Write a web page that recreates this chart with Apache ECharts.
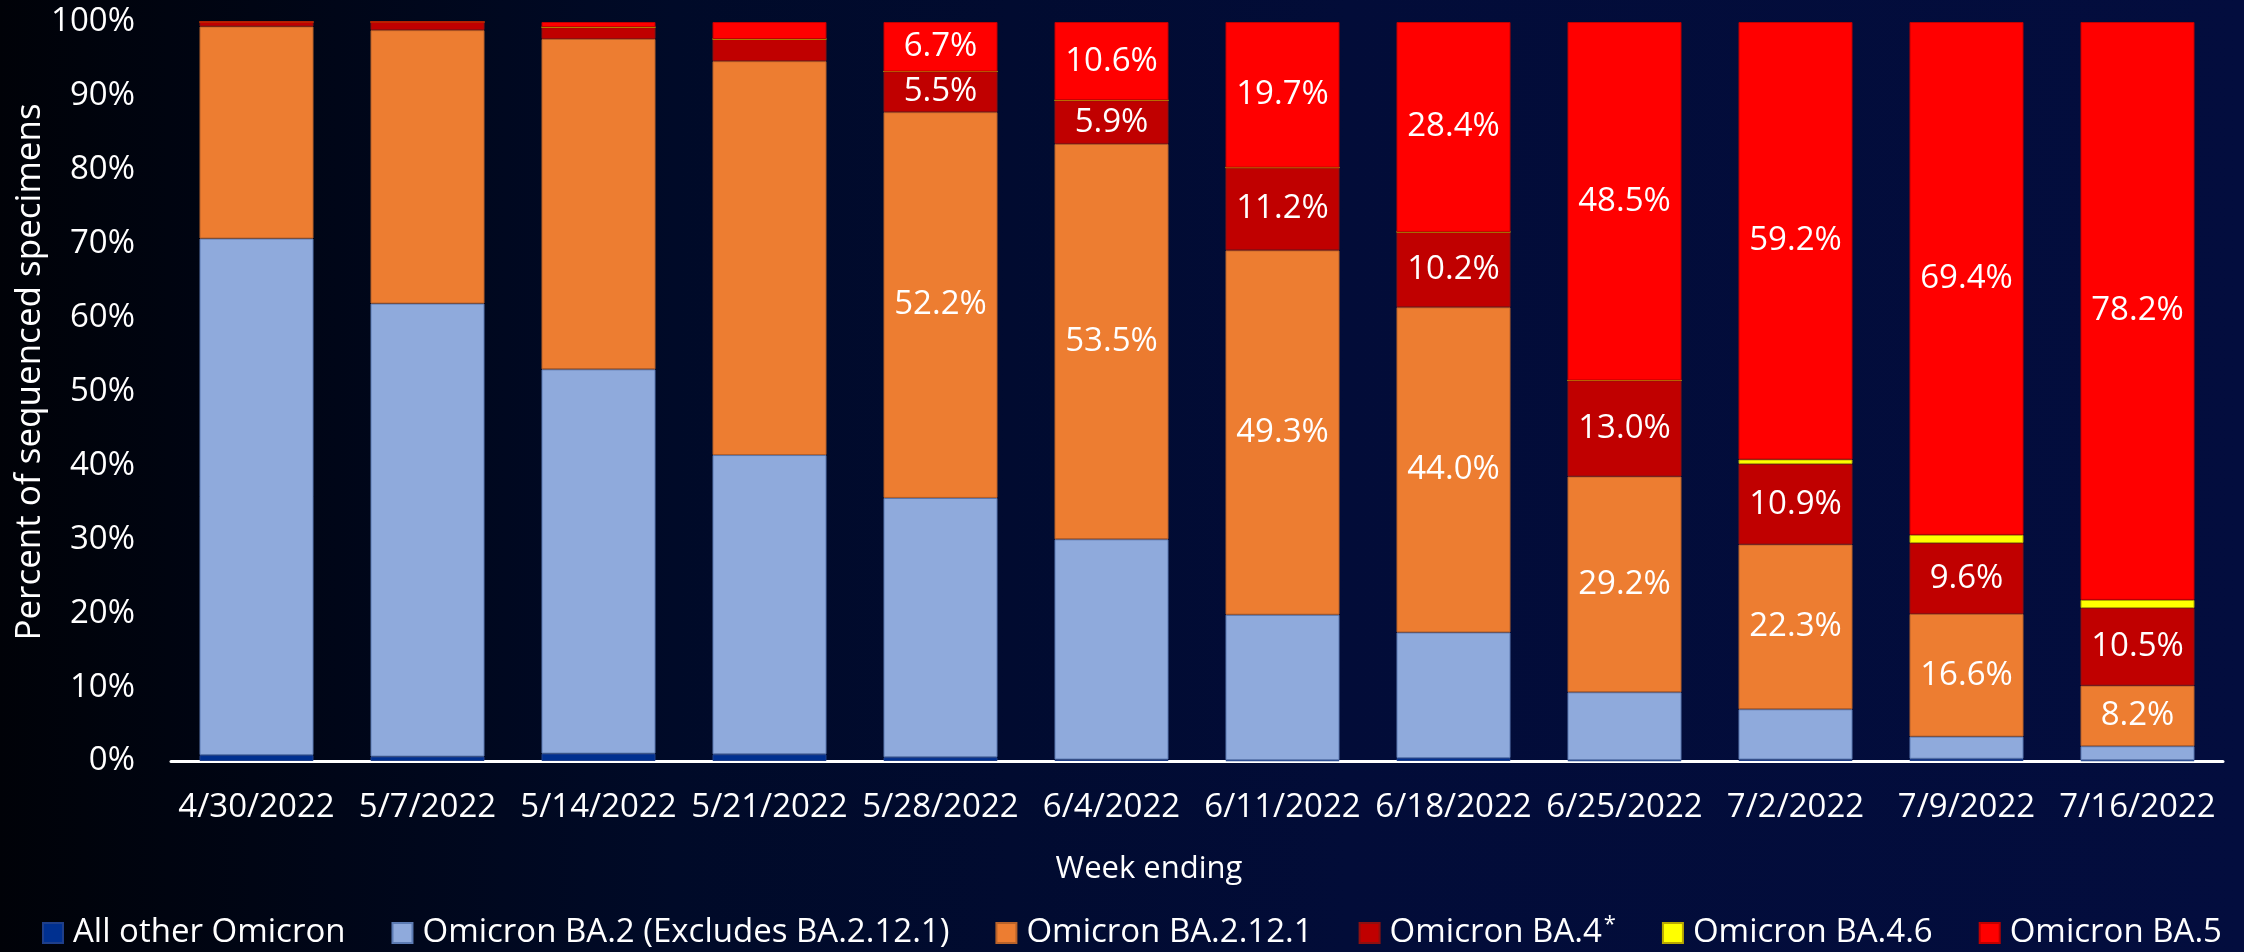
<!DOCTYPE html>
<html>
<head>
<meta charset="utf-8">
<script src="https://cdn.jsdelivr.net/npm/echarts@6/dist/echarts.min.js"></script>
<style>
  html, body { margin: 0; padding: 0; }
  body {
    width: 2244px; height: 952px; overflow: hidden;
    background: linear-gradient(to right, #000208 0%, #000a28 30%, #020c38 60%, #030d3e 100%);
  }
  #chart { width: 2244px; height: 952px; }
</style>
</head>
<body>
<div id="chart"></div>
<script>
// ---- data ----
const categories = ['4/30/2022', '5/7/2022', '5/14/2022', '5/21/2022', '5/28/2022', '6/4/2022',
  '6/11/2022', '6/18/2022', '6/25/2022', '7/2/2022', '7/9/2022', '7/16/2022'];
const seriesNames = ['All other Omicron', 'Omicron BA.2 (Excludes BA.2.12.1)', 'Omicron BA.2.12.1',
  'Omicron BA.4', 'Omicron BA.4.6', 'Omicron BA.5'];
const allOther = [0.8, 0.6, 1.0, 0.9, 0.5, 0.2, 0.1, 0.4, 0.1, 0.2, 0.3, 0.1];
const ba2      = [69.9, 61.3, 52.0, 40.5, 35.1, 29.8, 19.7, 17.0, 9.2, 6.8, 3.0, 1.9];
const ba2121   = [28.7, 37.0, 44.7, 53.3, 52.2, 53.5, 49.3, 44.0, 29.2, 22.3, 16.6, 8.2];
const ba4      = [0.6, 1.1, 1.6, 3.0, 5.5, 5.9, 11.2, 10.2, 13.0, 10.9, 9.6, 10.5];
const ba46     = [0, 0, 0, 0, 0, 0, 0, 0, 0, 0.6, 1.1, 1.1];
const ba5      = [0, 0, 0.7, 2.3, 6.7, 10.6, 19.7, 28.4, 48.5, 59.2, 69.4, 78.2];
const yTicks = [0, 10, 20, 30, 40, 50, 60, 70, 80, 90, 100];
// data labels are shown for these series from this week onward
const labeledSeries = ['Omicron BA.2.12.1', 'Omicron BA.4', 'Omicron BA.5'];
const firstLabeledWeek = '5/28/2022';

const values = [allOther, ba2, ba2121, ba4, ba46, ba5];
const colors = ['#003090', '#8FAADC', '#ED7D31', '#C00000', '#FFFF00', '#FF0000'];
const borders = ['#1f3f8a', '#5c7bb3', '#b8622a', '#8e1010', '#b8a800', '#c00000'];
const FONT = 'Open Sans';
const labelStartIdx = categories.indexOf(firstLabeledWeek);

const chart = echarts.init(document.getElementById('chart'), null, { renderer: 'canvas' });

const series = seriesNames.map((name, i) => ({
  name,
  type: 'bar',
  stack: 'total',
  barWidth: 114,
  data: values[i],
  itemStyle: { color: colors[i], borderColor: borders[i], borderWidth: 1 },
  label: {
    show: labeledSeries.includes(name),
    position: 'inside',
    color: '#ffffff',
    fontFamily: FONT,
    fontSize: 33,
    formatter: p => (p.dataIndex >= labelStartIdx ? p.value.toFixed(1) + '%' : '')
  },
  emphasis: { disabled: true }
}));

chart.setOption({
  backgroundColor: 'transparent',
  animation: false,
  textStyle: { fontFamily: FONT },
  grid: { left: 171, right: 21, top: 22, bottom: 191, containLabel: false },
  legend: {
    data: seriesNames,
    left: 37,
    top: 909,
    icon: 'rect',
    itemWidth: 20,
    itemHeight: 20,
    itemGap: 46,
    textStyle: {
      color: '#ffffff', fontFamily: FONT, fontSize: 33,
      padding: [0, 0, 0, 5],
      rich: {
        n: { color: '#ffffff', fontFamily: FONT, fontSize: 33 },
        sup: { color: '#ffffff', fontFamily: FONT, fontSize: 22, verticalAlign: 'top', padding: [0, 0, 16, 2] }
      }
    },
    formatter: name => name === 'Omicron BA.4' ? '{n|' + name + '}{sup|*}' : name,
    selectedMode: false
  },
  xAxis: {
    type: 'category',
    data: categories,
    axisLine: { show: true, lineStyle: { color: '#ffffff', width: 3 } },
    axisTick: { show: false },
    axisLabel: { color: '#ffffff', fontFamily: FONT, fontSize: 33, margin: 30, interval: 0 }
  },
  yAxis: {
    type: 'value',
    min: yTicks[0],
    max: yTicks[yTicks.length - 1],
    interval: yTicks[1] - yTicks[0],
    axisLine: { show: false },
    axisTick: { show: false },
    splitLine: { show: false },
    axisLabel: { color: '#ffffff', fontFamily: FONT, fontSize: 33, margin: 36, formatter: v => v + '%' }
  },
  graphic: [
    {
      type: 'text', x: 30, y: 372, rotation: Math.PI / 2,
      style: { text: 'Percent of sequenced specimens', fill: '#ffffff', font: '35px "Open Sans"',
        textAlign: 'center', textVerticalAlign: 'middle' }
    },
    {
      type: 'text', x: 1149, y: 869,
      style: { text: 'Week ending', fill: '#ffffff', font: '31px "Open Sans"',
        textAlign: 'center', textVerticalAlign: 'middle' }
    }
  ],
  series
});
</script>
</body>
</html>
